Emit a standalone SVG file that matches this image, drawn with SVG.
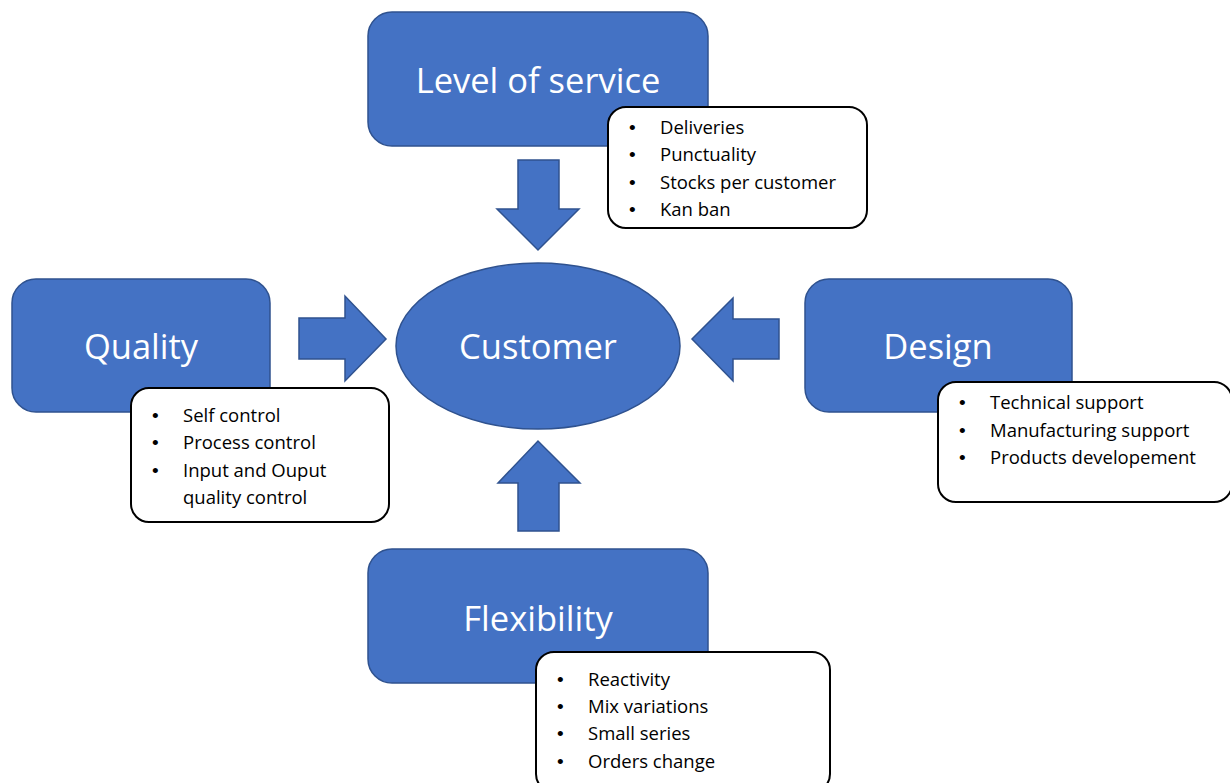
<svg xmlns="http://www.w3.org/2000/svg" width="1230" height="783" viewBox="0 0 1230 783">
<style>
.box{fill:#4472C4;stroke:#2F528F;stroke-width:1.5}
.arr{fill:#4472C4;stroke:#2F528F;stroke-width:1.5}
.call{fill:#FFFFFF;stroke:#000000;stroke-width:2}
.big{font-family:"Open Sans","Liberation Sans",sans-serif;font-size:34.5px;fill:#FFFFFF;text-anchor:middle}
.sm{font-family:"Open Sans","Liberation Sans",sans-serif;font-size:18.5px;fill:#000000}
.bul{font-family:"Liberation Sans",sans-serif;font-size:19px;fill:#000000}
</style>
<rect width="1230" height="783" fill="#FFFFFF"/>
<g id="connectors">
<polygon class="arr" points="518,160 559,160 559,209 579,209 538,250 497,209 518,209"/>
<polygon class="arr" points="299,318 345,318 345,296 386,339 345,381 345,359 299,359"/>
<polygon class="arr" points="779,319 733,319 733,298 692,339 733,381 733,359 779,359"/>
<polygon class="arr" points="518,531 559,531 559,483 580,483 538,441 498,483 518,483"/>
</g>
<g id="customer">
<ellipse class="box" cx="538" cy="346" rx="142" ry="83"/>
<text class="big" x="538" y="359">Customer</text>
</g>
<g id="level-of-service">
<rect class="box" x="368" y="12" width="340" height="134" rx="24"/>
<text class="big" x="538" y="93">Level of service</text>
</g>
<g id="level-of-service-list">
<rect class="call" x="608" y="107" width="259" height="121" rx="18"/>
<text class="bul"><tspan x="629" y="134">•</tspan><tspan x="629" y="161">•</tspan><tspan x="629" y="189">•</tspan><tspan x="629" y="216">•</tspan></text>
<text class="sm"><tspan x="660" y="134">Deliveries</tspan><tspan x="660" y="161">Punctuality</tspan><tspan x="660" y="189">Stocks per customer</tspan><tspan x="660" y="216">Kan ban</tspan></text>
</g>
<g id="quality">
<rect class="box" x="12" y="279" width="258" height="133" rx="24"/>
<text class="big" x="141" y="359">Quality</text>
</g>
<g id="quality-list">
<rect class="call" x="131" y="388" width="258" height="134" rx="18"/>
<text class="bul"><tspan x="152" y="422">•</tspan><tspan x="152" y="449">•</tspan><tspan x="152" y="477">•</tspan></text>
<text class="sm"><tspan x="183" y="422">Self control</tspan><tspan x="183" y="449">Process control</tspan><tspan x="183" y="477">Input and Ouput</tspan><tspan x="183" y="504">quality control</tspan></text>
</g>
<g id="design">
<rect class="box" x="805" y="279" width="267" height="133" rx="24"/>
<text class="big" x="938" y="359">Design</text>
</g>
<g id="design-list">
<rect class="call" x="938" y="382" width="294" height="120" rx="18"/>
<text class="bul"><tspan x="959" y="409">•</tspan><tspan x="959" y="437">•</tspan><tspan x="959" y="464">•</tspan></text>
<text class="sm"><tspan x="990" y="409">Technical support</tspan><tspan x="990" y="437">Manufacturing support</tspan><tspan x="990" y="464">Products developement</tspan></text>
</g>
<g id="flexibility">
<rect class="box" x="368" y="549" width="340" height="134" rx="24"/>
<text class="big" x="538" y="631">Flexibility</text>
</g>
<g id="flexibility-list">
<rect class="call" x="536" y="652" width="294" height="140" rx="18"/>
<text class="bul"><tspan x="557" y="686">•</tspan><tspan x="557" y="713">•</tspan><tspan x="557" y="740">•</tspan><tspan x="557" y="768">•</tspan></text>
<text class="sm"><tspan x="588" y="686">Reactivity</tspan><tspan x="588" y="713">Mix variations</tspan><tspan x="588" y="740">Small series</tspan><tspan x="588" y="768">Orders change</tspan></text>
</g>
</svg>
